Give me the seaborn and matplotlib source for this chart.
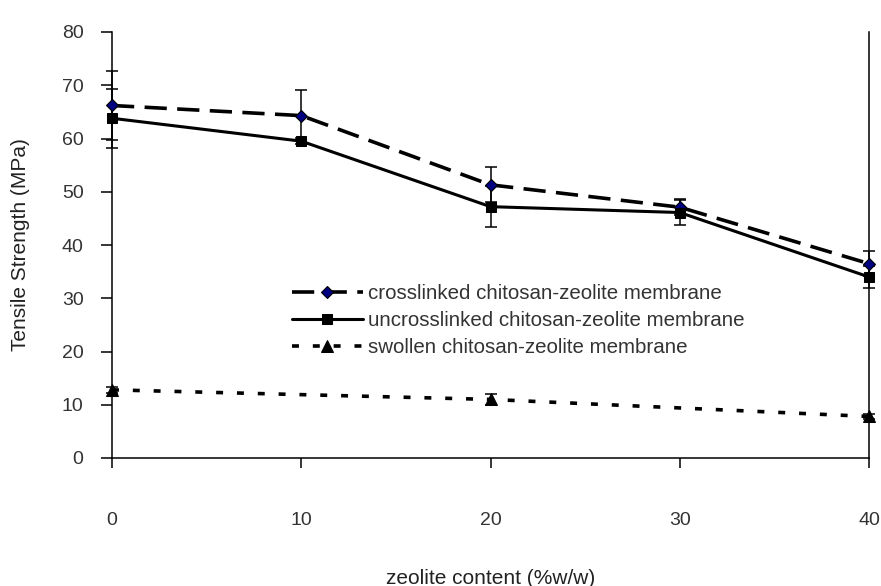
import matplotlib
matplotlib.use("Agg")
import matplotlib.pyplot as plt
import seaborn as sns
import pandas as pd

# Zeolite loading (%w/w) and tensile strength (MPa) of the membranes
zeolite = [0, 10, 20, 30, 40]
crosslinked = [66.2, 64.3, 51.3, 47.1, 36.5]
crosslinked_err = [6.5, 4.8, 3.3, 1.5, 2.4]
uncrosslinked = [63.8, 59.5, 47.2, 46.1, 34.0]
uncrosslinked_err = [5.5, 0.6, 3.8, 2.3, 2.0]
zeolite_swollen = [0, 20, 40]
swollen = [12.8, 11.0, 7.8]
swollen_err = [0.5, 1.1, 0.5]

labels = ["crosslinked chitosan-zeolite membrane",
          "uncrosslinked chitosan-zeolite membrane",
          "swollen chitosan-zeolite membrane"]
x_ticks = [0, 10, 20, 30, 40]
y_ticks = [0, 10, 20, 30, 40, 50, 60, 70, 80]

sns.set_style("ticks")
plt.rcParams["font.family"] = ["Liberation Sans", "DejaVu Sans"]
plt.rcParams["lines.scale_dashes"] = False

fig = plt.figure(figsize=(8.81, 5.86), dpi=100)
ax = fig.add_axes([112 / 881, 1 - 458 / 586, (869 - 112) / 881, (458 - 32) / 586])

series = [
    (zeolite, crosslinked, crosslinked_err, labels[0],
     dict(color="black", linewidth=2.6, linestyle=(0, (16, 7.5)),
          marker="D", markersize=6.5, markerfacecolor="#000080",
          markeredgecolor="black", markeredgewidth=0.8)),
    (zeolite, uncrosslinked, uncrosslinked_err, labels[1],
     dict(color="black", linewidth=2.2, linestyle="-",
          marker="s", markersize=7, markerfacecolor="black",
          markeredgecolor="black")),
    (zeolite_swollen, swollen, swollen_err, labels[2],
     dict(color="black", linewidth=2.6, linestyle=(0, (5, 10)),
          marker="^", markersize=8, markerfacecolor="black",
          markeredgecolor="black")),
]

for xs, ys, errs, lab, style in series:
    df = pd.DataFrame({"x": xs, "y": ys})
    ax.errorbar(xs, ys, yerr=errs, fmt="none", ecolor="black",
                elinewidth=1.1, capsize=4.5, capthick=1.1, zorder=2,
                clip_on=False)
    sns.lineplot(data=df, x="x", y="y", ax=ax, label=lab, zorder=3,
                 clip_on=False, **style)

ax.set_xlim(0, 40)
ax.set_ylim(0, 80)
ax.set_xticks(x_ticks)
ax.set_yticks(y_ticks)
ax.set_xticklabels([str(v) for v in x_ticks])
ax.set_yticklabels([str(v) for v in y_ticks])

ax.spines["top"].set_visible(False)
ax.spines["right"].set_visible(True)
for side in ["left", "bottom", "right"]:
    ax.spines[side].set_color("black")
    ax.spines[side].set_linewidth(1.1)

ax.tick_params(axis="y", direction="out", length=8, width=1.1,
               color="black", labelsize=14, labelcolor="#333333", pad=12.5)
ax.tick_params(axis="x", direction="out", length=7, width=1.1,
               color="black", labelsize=14, labelcolor="#333333", pad=32)

ax.set_xlabel("zeolite content (%w/w)", fontsize=15, color="#222222",
              labelpad=28.5)
ax.set_ylabel("Tensile Strength (MPa)", fontsize=15, color="#222222",
              labelpad=22.5)

leg = ax.legend(loc="upper left", bbox_to_anchor=(292 / 881, 1 - 284 / 586),
                bbox_transform=fig.transFigure, frameon=False, fontsize=14.8,
                handlelength=3.45, handletextpad=0.25, labelspacing=0.4,
                borderpad=0, borderaxespad=0)
for t in leg.get_texts():
    t.set_color("#333333")

fig.savefig("out.png", dpi=100)
